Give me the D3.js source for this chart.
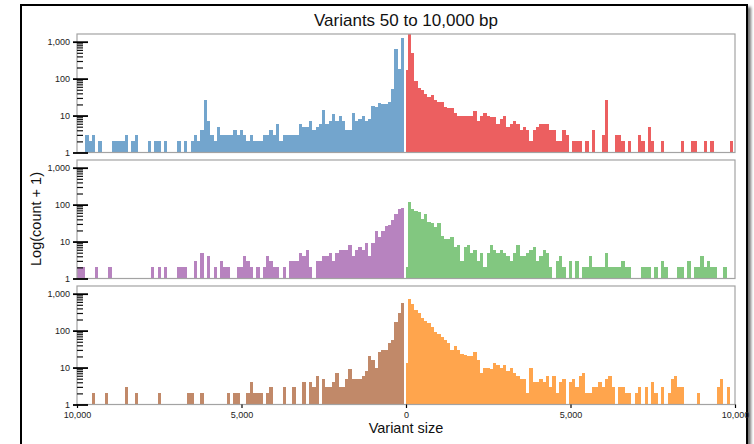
<!DOCTYPE html>
<html>
<head>
<meta charset="utf-8">
<script src="https://cdn.jsdelivr.net/npm/d3@7"></script>
<style>
body { margin: 0; background: #fff; }
svg text { font-family: "Liberation Sans", Arial, sans-serif; }
</style>
</head>
<body>
<script>
// start (bp) of every 100 bp size bin, 50 .. 9,950
var binStarts = d3.range(50, 10000, 100);

// counts per size bin (smallest size first); bars show count + 1 on a log axis
var p1Neg = [1259, 180, 634, 51, 22, 19, 19, 21, 16, 17,
    7, 6, 9, 7, 6, 11, 3, 3, 6, 9,
    6, 10, 6, 5, 13, 5, 4, 3, 6, 4,
    4, 5, 2, 2, 2, 2, 2, 1, 5, 2,
    3, 2, 2, 1, 1, 1, 2, 1, 2, 3,
    2, 3, 2, 2, 2, 2, 4, 1, 2, 6,
    25, 3, 1, 2, 1, 0, 1, 0, 1, 0,
    0, 0, 1, 0, 1, 1, 0, 1, 0, 0,
    0, 2, 1, 0, 2, 1, 1, 1, 1, 0,
    0, 0, 1, 0, 2, 1, 2, 0, 0, 0];
var p1Pos = [1614, 499, 87, 55, 48, 38, 30, 36, 25, 23,
    23, 16, 15, 15, 11, 9, 9, 9, 9, 9,
    12, 6, 9, 11, 9, 8, 8, 5, 7, 9,
    4, 5, 6, 5, 3, 4, 3, 1, 3, 4,
    5, 5, 5, 3, 3, 1, 1, 3, 2, 0,
    1, 1, 1, 0, 1, 0, 3, 0, 0, 2,
    25, 0, 0, 2, 2, 1, 0, 1, 0, 0,
    2, 1, 0, 4, 1, 0, 0, 1, 0, 0,
    0, 0, 0, 1, 0, 0, 1, 1, 0, 0,
    1, 0, 1, 0, 0, 0, 0, 0, 1, 0];
var p2Neg = [79, 74, 54, 37, 27, 25, 18, 12, 18, 8,
    3, 8, 5, 6, 5, 3, 7, 5, 5, 5,
    4, 2, 4, 3, 3, 2, 2, 0, 1, 5,
    3, 4, 2, 2, 2, 0, 1, 0, 1, 1,
    2, 3, 1, 0, 1, 0, 1, 2, 3, 1,
    1, 0, 0, 1, 1, 2, 0, 1, 0, 3,
    0, 4, 0, 2, 0, 0, 1, 1, 1, 0,
    0, 0, 1, 0, 1, 0, 1, 0, 0, 0,
    0, 0, 0, 0, 0, 0, 0, 0, 0, 1,
    0, 0, 0, 1, 0, 0, 0, 1, 1, 1];
var p2Pos = [114, 77, 65, 61, 39, 54, 33, 31, 24, 31,
    13, 11, 11, 12, 6, 7, 2, 6, 7, 4,
    5, 2, 4, 1, 4, 7, 5, 4, 5, 4,
    3, 2, 4, 7, 3, 3, 4, 5, 6, 2,
    3, 5, 4, 1, 0, 2, 3, 1, 0, 2,
    0, 2, 0, 1, 1, 3, 1, 1, 1, 1,
    4, 1, 1, 1, 1, 2, 1, 1, 0, 0,
    0, 1, 1, 1, 0, 1, 0, 2, 1, 0,
    0, 0, 1, 1, 0, 2, 0, 1, 1, 3,
    1, 2, 1, 1, 0, 0, 1, 0, 0, 0];
var p3Neg = [549, 290, 166, 55, 44, 29, 29, 25, 9, 15,
    19, 7, 5, 4, 4, 4, 8, 4, 2, 2,
    6, 3, 2, 2, 4, 0, 5, 2, 3, 0,
    3, 0, 0, 2, 0, 0, 2, 0, 0, 0,
    2, 1, 0, 1, 1, 1, 3, 1, 0, 0,
    1, 1, 0, 1, 0, 0, 0, 0, 0, 0,
    0, 1, 0, 0, 1, 1, 0, 0, 0, 0,
    0, 0, 0, 0, 1, 0, 0, 0, 0, 0,
    0, 1, 0, 0, 2, 0, 0, 0, 0, 0,
    1, 0, 0, 0, 1, 0, 0, 0, 0, 0];
var p3Pos = [709, 524, 361, 294, 214, 185, 157, 122, 93, 80,
    65, 55, 44, 29, 38, 29, 23, 21, 19, 19,
    25, 15, 6, 9, 9, 8, 12, 11, 9, 11,
    7, 9, 6, 5, 4, 4, 1, 9, 3, 3,
    4, 3, 5, 2, 5, 1, 3, 4, 0, 3,
    4, 2, 5, 6, 1, 1, 2, 2, 3, 2,
    4, 5, 2, 0, 2, 2, 1, 1, 0, 1,
    2, 0, 2, 0, 3, 1, 0, 2, 0, 1,
    4, 5, 2, 2, 0, 0, 0, 0, 1, 0,
    0, 0, 0, 0, 2, 4, 0, 2, 0, 0];
// the short 0-50 bp bin right of zero, one per panel
var centerCounts = [174, 1, 12];

var yTicks = [1, 10, 100, 1000];
var xTicks = [-10000, -5000, 0, 5000, 10000];

var panels = [
    {neg: p1Neg, pos: p1Pos, negColor: '#377eb8', posColor: '#e41a1c'},
    {neg: p2Neg, pos: p2Pos, negColor: '#984ea3', posColor: '#4daf4a'},
    {neg: p3Neg, pos: p3Pos, negColor: '#a65628', posColor: '#ff7f00'}
];

var width = 754, height = 444;
var left = 77, right = 735;
var panelTops = [34, 160, 286], panelH = 118.5;

var svg = d3.select('body').append('svg')
    .attr('width', width)
    .attr('height', height);

var defs = svg.append('defs');
var shadow = defs.append('filter').attr('id', 'shadow')
    .attr('x', '-5%').attr('y', '-5%').attr('width', '110%').attr('height', '110%');
shadow.append('feDropShadow')
    .attr('dx', 3).attr('dy', 3).attr('stdDeviation', 1.8)
    .attr('flood-color', '#000').attr('flood-opacity', 0.55);

// outer frame
svg.append('rect')
    .attr('x', 21).attr('y', 5)
    .attr('width', 726).attr('height', 480)
    .attr('fill', '#fff')
    .attr('stroke', '#000')
    .attr('stroke-width', 2)
    .attr('filter', 'url(#shadow)');

var x = d3.scaleLinear().domain([-10000, 10000]).range([left, right]);

var yMax = d3.max(panels, function(p) { return d3.max(p.neg.concat(p.pos)) + 1; });

var minorTicks = [];
[1, 10, 100, 1000].forEach(function(b) {
    d3.range(2, 10).forEach(function(m) { if (b * m < yMax) minorTicks.push(b * m); });
});

function pale(c) { return d3.interpolateRgb('#fff', c)(0.7); }

panels.forEach(function(p, n) {
    var top = panelTops[n];
    var y = d3.scaleLog().domain([1, yMax]).range([top + panelH, top]);

    defs.append('clipPath').attr('id', 'clip' + n)
        .append('rect')
        .attr('x', left).attr('y', top)
        .attr('width', right - left).attr('height', panelH);

    var g = svg.append('g').attr('clip-path', 'url(#clip' + n + ')')
        .attr('shape-rendering', 'crispEdges');

    // negative side (mirrored sizes)
    g.selectAll('rect.neg')
        .data(p.neg)
        .enter().append('rect')
        .attr('class', 'neg')
        .attr('x', function(d, i) { return x(-(binStarts[i] + 100)); })
        .attr('width', function(d, i) { return x(-binStarts[i]) - x(-(binStarts[i] + 100)); })
        .attr('y', function(d) { return y(d + 1); })
        .attr('height', function(d) { return y(1) - y(d + 1); })
        .attr('fill', pale(p.negColor));

    // positive side
    g.selectAll('rect.pos')
        .data(p.pos)
        .enter().append('rect')
        .attr('class', 'pos')
        .attr('x', function(d, i) { return x(binStarts[i]); })
        .attr('width', function(d, i) { return x(binStarts[i] + 100) - x(binStarts[i]); })
        .attr('y', function(d) { return y(d + 1); })
        .attr('height', function(d) { return y(1) - y(d + 1); })
        .attr('fill', pale(p.posColor));

    // small bin just right of zero
    g.append('rect')
        .attr('x', x(0))
        .attr('width', x(50) - x(0))
        .attr('y', y(centerCounts[n] + 1))
        .attr('height', y(1) - y(centerCounts[n] + 1))
        .attr('fill', pale(p.posColor));

    // panel box
    svg.append('rect')
        .attr('x', left).attr('y', top)
        .attr('width', right - left).attr('height', panelH)
        .attr('fill', 'none')
        .attr('stroke', '#a3a3a3')
        .attr('stroke-width', 1.2);

    // minor ticks
    var minor = svg.append('g')
        .attr('transform', 'translate(' + left + ',0)')
        .call(d3.axisLeft(y).tickValues(minorTicks).tickSize(-6).tickFormat(''));
    minor.select('.domain').remove();
    minor.selectAll('.tick line').attr('stroke', '#111').attr('stroke-width', 1.2);

    // major ticks and labels
    var major = svg.append('g')
        .attr('transform', 'translate(' + left + ',0)')
        .call(d3.axisLeft(y).tickValues(yTicks).tickFormat(d3.format(','))
            .tickSize(4).tickPadding(3));
    major.select('.domain').remove();
    major.selectAll('.tick line').attr('x1', 11).attr('stroke', '#000').attr('stroke-width', 1.8);
    major.selectAll('.tick text')
        .style('font-family', '"Liberation Sans", Arial, sans-serif')
        .style('font-size', '9px')
        .attr('fill', '#222');

    if (n === panels.length - 1) {
        var xa = svg.append('g')
            .attr('transform', 'translate(0,' + (top + panelH) + ')')
            .call(d3.axisBottom(x).tickValues(xTicks)
                .tickFormat(function(d) { return d3.format(',')(Math.abs(d)); })
                .tickSize(3.5).tickPadding(3.5));
        xa.select('.domain').remove();
        xa.selectAll('.tick line').attr('stroke', '#000').attr('stroke-width', 1.2);
        xa.selectAll('.tick text')
            .style('font-family', '"Liberation Sans", Arial, sans-serif')
            .style('font-size', '9px')
            .attr('fill', '#222');
    }
});

// title and axis labels
svg.append('text')
    .attr('x', 406).attr('y', 26)
    .attr('text-anchor', 'middle')
    .style('font-size', '17px')
    .attr('fill', '#111')
    .text('Variants 50 to 10,000 bp');

svg.append('text')
    .attr('x', 406).attr('y', 433)
    .attr('text-anchor', 'middle')
    .style('font-size', '14.5px')
    .attr('fill', '#111')
    .text('Variant size');

svg.append('text')
    .attr('transform', 'translate(40.5,219) rotate(-90)')
    .attr('text-anchor', 'middle')
    .style('font-size', '14.5px')
    .attr('fill', '#111')
    .text('Log(count + 1)');
</script>
</body>
</html>
